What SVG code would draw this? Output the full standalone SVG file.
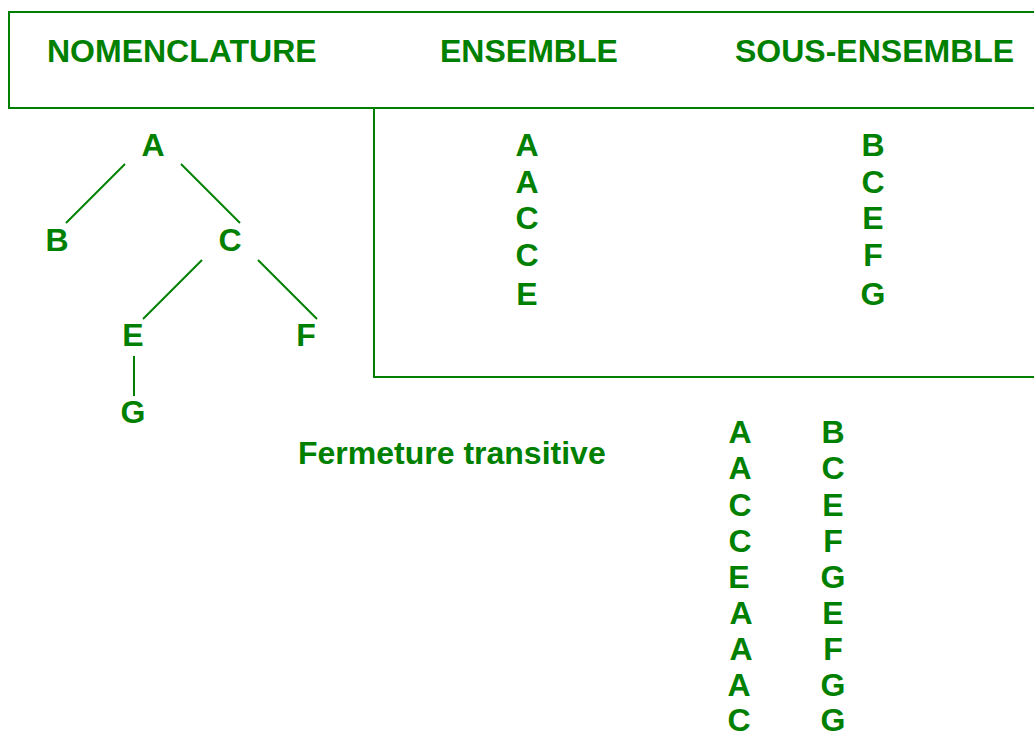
<svg xmlns="http://www.w3.org/2000/svg" width="1034" height="738" viewBox="0 0 1034 738">
<style>
text{font-family:"Liberation Sans",Arial,sans-serif;font-weight:bold;font-size:32px;fill:#008000;text-anchor:middle}
.h{text-anchor:start}
.box{fill:none;stroke:#008000;stroke-width:2}
.edge{stroke:#008000;stroke-width:2;fill:none}
</style>
<rect width="1034" height="738" fill="#fff"/>
<g id="header">
<rect class="box" x="9" y="12" width="1040" height="96"/>
<text class="h" x="47" y="62">NOMENCLATURE</text>
<text class="h" x="440" y="62">ENSEMBLE</text>
<text class="h" x="735" y="62">SOUS-ENSEMBLE</text>
</g>
<g id="table">
<rect class="box" x="374" y="108" width="680" height="269"/>
<g id="ensemble">
<text x="527" y="156">A</text>
<text x="527" y="193">A</text>
<text x="527" y="229">C</text>
<text x="527" y="266">C</text>
<text x="527" y="305">E</text>
</g>
<g id="sous-ensemble">
<text x="873" y="156">B</text>
<text x="873" y="193">C</text>
<text x="873" y="229">E</text>
<text x="873" y="266">F</text>
<text x="873" y="305">G</text>
</g>
</g>
<g id="connectors">
<line class="edge" x1="125" y1="164" x2="66" y2="223"/>
<line class="edge" x1="181" y1="164" x2="240" y2="223"/>
<line class="edge" x1="202" y1="260" x2="143" y2="319"/>
<line class="edge" x1="258" y1="260" x2="317" y2="319"/>
<line class="edge" x1="134" y1="356" x2="134" y2="396"/>
</g>
<g id="node-A"><text x="153" y="156">A</text></g>
<g id="node-B"><text x="57" y="251">B</text></g>
<g id="node-C"><text x="230" y="251">C</text></g>
<g id="node-E"><text x="133" y="346">E</text></g>
<g id="node-F"><text x="306" y="346">F</text></g>
<g id="node-G"><text x="133" y="423">G</text></g>
<g id="fermeture">
<text class="h" x="298" y="464">Fermeture transitive</text>
<g id="col-left">
<text x="740" y="443">A</text>
<text x="740" y="479">A</text>
<text x="740" y="516">C</text>
<text x="740" y="552">C</text>
<text x="739" y="588">E</text>
<text x="741" y="624">A</text>
<text x="741" y="660">A</text>
<text x="739" y="696">A</text>
<text x="739" y="731">C</text>
</g>
<g id="col-right">
<text x="833" y="443">B</text>
<text x="833" y="479">C</text>
<text x="833" y="516">E</text>
<text x="833" y="552">F</text>
<text x="833" y="588">G</text>
<text x="833" y="624">E</text>
<text x="833" y="660">F</text>
<text x="833" y="696">G</text>
<text x="833" y="731">G</text>
</g>
</g>
</svg>
